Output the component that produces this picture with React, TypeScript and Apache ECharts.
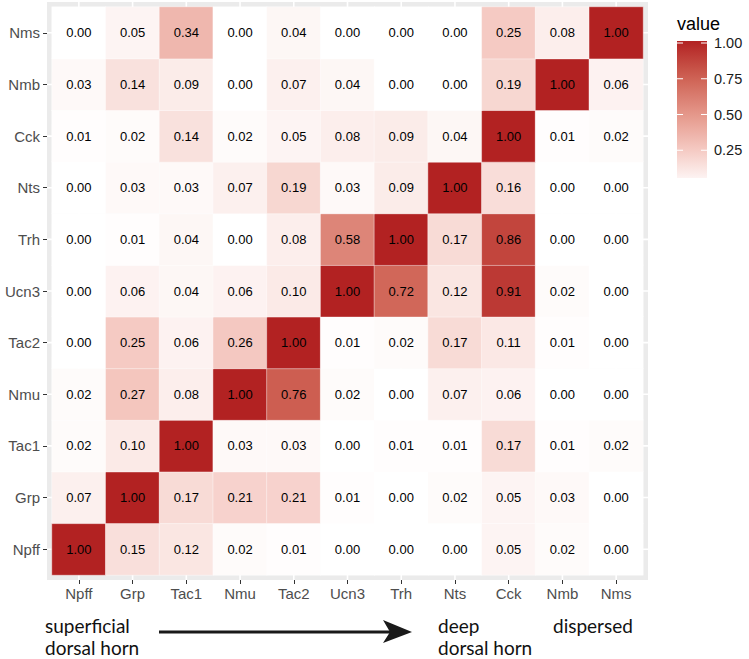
import React, { useEffect, useRef } from "react";
import * as echarts from "echarts";

const xCategories = ["Npff", "Grp", "Tac1", "Nmu", "Tac2", "Ucn3", "Trh", "Nts", "Cck", "Nmb", "Nms"];
// rows listed bottom to top
const yCategories = ["Npff", "Grp", "Tac1", "Nmu", "Tac2", "Ucn3", "Trh", "Nts", "Cck", "Nmb", "Nms"];

const rowNpff = [1.0, 0.15, 0.12, 0.02, 0.01, 0.0, 0.0, 0.0, 0.05, 0.02, 0.0];
const rowGrp = [0.07, 1.0, 0.17, 0.21, 0.21, 0.01, 0.0, 0.02, 0.05, 0.03, 0.0];
const rowTac1 = [0.02, 0.1, 1.0, 0.03, 0.03, 0.0, 0.01, 0.01, 0.17, 0.01, 0.02];
const rowNmu = [0.02, 0.27, 0.08, 1.0, 0.76, 0.02, 0.0, 0.07, 0.06, 0.0, 0.0];
const rowTac2 = [0.0, 0.25, 0.06, 0.26, 1.0, 0.01, 0.02, 0.17, 0.11, 0.01, 0.0];
const rowUcn3 = [0.0, 0.06, 0.04, 0.06, 0.1, 1.0, 0.72, 0.12, 0.91, 0.02, 0.0];
const rowTrh = [0.0, 0.01, 0.04, 0.0, 0.08, 0.58, 1.0, 0.17, 0.86, 0.0, 0.0];
const rowNts = [0.0, 0.03, 0.03, 0.07, 0.19, 0.03, 0.09, 1.0, 0.16, 0.0, 0.0];
const rowCck = [0.01, 0.02, 0.14, 0.02, 0.05, 0.08, 0.09, 0.04, 1.0, 0.01, 0.02];
const rowNmb = [0.03, 0.14, 0.09, 0.0, 0.07, 0.04, 0.0, 0.0, 0.19, 1.0, 0.06];
const rowNms = [0.0, 0.05, 0.34, 0.0, 0.04, 0.0, 0.0, 0.0, 0.25, 0.08, 1.0];

const rows = [rowNpff, rowGrp, rowTac1, rowNmu, rowTac2, rowUcn3, rowTrh, rowNts, rowCck, rowNmb, rowNms];

const legendTicks = [1.0, 0.75, 0.5, 0.25];
const legendTitle = "value";

// white -> firebrick, interpolated in Lab (approximated by stops)
const colorStops = ["#FFFFFF", "#F5CAC3", "#E49689", "#CE6153", "#B22222"];

const FONT = "Liberation Sans, Arial, sans-serif";
const ANNO_FONT = "Lato, sans-serif";

export default function App() {
  const ref = useRef<HTMLDivElement>(null);

  useEffect(() => {
    document.body.style.margin = "0";
    const chart = echarts.init(ref.current!, null, { renderer: "svg" });

    const data: [number, number, number][] = [];
    rows.forEach((row, yi) => row.forEach((v, xi) => data.push([xi, yi, v])));

    const gridLeft = 52, gridTop = 7, gridW = 591, gridH = 568;
    const pad = 5;

    const option: any = {
      animation: false,
      backgroundColor: "#FFFFFF",
      grid: { left: gridLeft, top: gridTop, width: gridW, height: gridH },
      xAxis: {
        type: "category",
        data: xCategories,
        offset: pad,
        axisLine: { show: false },
        axisTick: { show: true, alignWithLabel: true, length: 4, lineStyle: { color: "#333333", width: 1 } },
        axisLabel: { margin: 6, fontSize: 15, color: "#4D4D4D", fontFamily: FONT },
        splitLine: { show: false },
      },
      yAxis: {
        type: "category",
        data: yCategories,
        offset: pad,
        axisLine: { show: false },
        axisTick: { show: true, alignWithLabel: true, length: 4, lineStyle: { color: "#333333", width: 1 } },
        axisLabel: { margin: 7, fontSize: 15, color: "#4D4D4D", fontFamily: FONT },
        splitLine: { show: false },
      },
      visualMap: {
        show: false,
        type: "continuous",
        min: 0,
        max: 1,
        dimension: 2,
        inRange: { color: colorStops },
      },
      series: [
        {
          type: "heatmap",
          data,
          z: 5,
          itemStyle: { borderColor: "rgba(255,255,255,0.7)", borderWidth: 0.6 },
          label: {
            show: true,
            fontSize: 13,
            color: "#000000",
            fontFamily: FONT,
            formatter: (p: any) => Number(p.value[2]).toFixed(2),
          },
          emphasis: { disabled: true },
        },
      ],
    };
    chart.setOption(option);

    // background panel + grid lines (beneath tiles), computed via axes
    const panel = {
      x: gridLeft - pad,
      y: gridTop - pad,
      w: gridW + 2 * pad,
      h: gridH + 2 * pad,
    };
    const graphics: any[] = [
      {
        type: "rect",
        z: -10,
        shape: { x: panel.x, y: panel.y, width: panel.w, height: panel.h },
        style: { fill: "#EBEBEB" },
        silent: true,
      },
    ];
    xCategories.forEach((c) => {
      const px = chart.convertToPixel({ xAxisIndex: 0 }, c) as number;
      graphics.push({
        type: "line",
        z: -9,
        shape: { x1: px, y1: panel.y, x2: px, y2: panel.y + panel.h },
        style: { stroke: "#FFFFFF", lineWidth: 1.6 },
        silent: true,
      });
    });
    yCategories.forEach((c) => {
      const py = chart.convertToPixel({ yAxisIndex: 0 }, c) as number;
      graphics.push({
        type: "line",
        z: -9,
        shape: { x1: panel.x, y1: py, x2: panel.x + panel.w, y2: py },
        style: { stroke: "#FFFFFF", lineWidth: 1.6 },
        silent: true,
      });
    });

    // colour bar legend
    const barX = 677, barW = 30, barTop = 41, barBottom = 178;
    const yAtOne = 43, pxPerUnit = 143;
    const valAt = (y: number) => 1 - (y - yAtOne) / pxPerUnit;
    const vTop = Math.min(1, valAt(barTop));
    const vBot = Math.max(0, valAt(barBottom));
    const colorOf = (v: number) => {
      const t = v * (colorStops.length - 1);
      const i = Math.min(colorStops.length - 2, Math.floor(t));
      const f = t - i;
      const a = echarts.color.parse(colorStops[i]);
      const b = echarts.color.parse(colorStops[i + 1]);
      const m = [0, 1, 2].map((k) => Math.round(a[k] + (b[k] - a[k]) * f));
      return `rgb(${m[0]},${m[1]},${m[2]})`;
    };
    const gradStops = [];
    for (let i = 0; i <= 10; i++) {
      const off = i / 10;
      const v = vTop - (vTop - vBot) * off;
      gradStops.push({ offset: off, color: colorOf(v) });
    }
    graphics.push({
      type: "rect",
      shape: { x: barX, y: barTop, width: barW, height: barBottom - barTop },
      style: { fill: new echarts.graphic.LinearGradient(0, 0, 0, 1, gradStops) },
      silent: true,
    });
    legendTicks.forEach((t) => {
      const y = yAtOne + (1 - t) * pxPerUnit;
      graphics.push({
        type: "line",
        shape: { x1: barX, y1: y, x2: barX + 6, y2: y },
        style: { stroke: "#FFFFFF", lineWidth: 1 },
        silent: true,
      });
      graphics.push({
        type: "line",
        shape: { x1: barX + barW - 6, y1: y, x2: barX + barW, y2: y },
        style: { stroke: "#FFFFFF", lineWidth: 1 },
        silent: true,
      });
      graphics.push({
        type: "text",
        x: 714,
        y,
        style: {
          text: t.toFixed(2),
          fontSize: 14.5,
          fontFamily: FONT,
          fill: "#1A1A1A",
          verticalAlign: "middle",
          align: "left",
        },
        silent: true,
      });
    });
    graphics.push({
      type: "text",
      x: 677,
      y: 24,
      style: { text: legendTitle, fontSize: 18, fontFamily: FONT, fill: "#000000", verticalAlign: "middle", align: "left" },
      silent: true,
    });

    // bottom annotations
    const annoStyle = { fontSize: 19, fontFamily: ANNO_FONT, fill: "#111111", verticalAlign: "middle", align: "left" };
    graphics.push({ type: "text", x: 45, y: 625, style: { ...annoStyle, text: "superficial" }, silent: true });
    graphics.push({ type: "text", x: 45, y: 647, style: { ...annoStyle, text: "dorsal horn" }, silent: true });
    graphics.push({ type: "text", x: 438, y: 625, style: { ...annoStyle, text: "deep" }, silent: true });
    graphics.push({ type: "text", x: 438, y: 647, style: { ...annoStyle, text: "dorsal horn" }, silent: true });
    graphics.push({ type: "text", x: 553, y: 625, style: { ...annoStyle, text: "dispersed" }, silent: true });
    graphics.push({
      type: "line",
      shape: { x1: 159, y1: 632, x2: 392, y2: 632 },
      style: { stroke: "#1A1A1A", lineWidth: 3 },
      silent: true,
    });
    graphics.push({
      type: "polygon",
      shape: { points: [[383, 620], [412, 632], [383, 643], [390, 632]] },
      style: { fill: "#1A1A1A" },
      silent: true,
    });

    chart.setOption({ graphic: graphics });

    return () => chart.dispose();
  }, []);

  return (
    <div
      ref={ref}
      style={{ position: "fixed", left: 0, top: 0, width: 749, height: 659 }}
    />
  );
}
